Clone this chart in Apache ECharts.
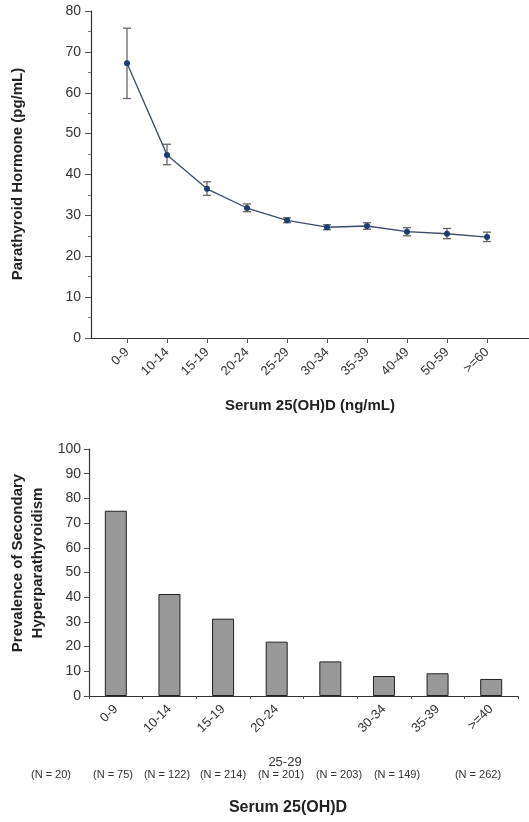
<!DOCTYPE html>
<html><head><meta charset="utf-8">
<script src="https://cdn.jsdelivr.net/npm/echarts@6/dist/echarts.min.js"></script>
<style>html,body{margin:0;padding:0;background:#fff}#c{width:529px;height:822px}</style>
</head><body><div id="c"></div>
<script>
// Top chart data
var topCategories = ['0-9','10-14','15-19','20-24','25-29','30-34','35-39','40-49','50-59','>=60'];
var pthMean = [67.2, 44.8, 36.5, 31.8, 28.8, 27.1, 27.4, 26.0, 25.5, 24.7];
var pthLow  = [58.6, 42.4, 34.9, 30.9, 28.2, 26.5, 26.6, 25.0, 24.3, 23.6];
var pthHigh = [75.8, 47.4, 38.2, 32.8, 29.4, 27.7, 28.2, 27.0, 26.8, 25.9];
var topYTicks = [0,10,20,30,40,50,60,70,80];

// Bottom chart data
var botCategories = ['0-9','10-14','15-19','20-24','25-29','30-34','35-39','>=40'];
var prevalence = [75.0, 41.3, 31.3, 22.0, 14.0, 8.1, 9.2, 6.9];
var nCounts = [20, 75, 122, 214, 201, 203, 149, 262];
var botYTicks = [0,10,20,30,40,50,60,70,80,90,100];

var FONT = 'Liberation Sans, Arial, sans-serif';
var chart = echarts.init(document.getElementById('c'), null, {renderer:'canvas'});

var idx = topCategories.map(function(_, i){ return i; });
var lineData = pthMean.map(function(v, i){ return [i, v]; });
var errData = pthMean.map(function(v, i){ return [i, pthLow[i], pthHigh[i]]; });

var nX = [51, 113, 167, 223, 281, 339, 397, 478];
var graphics = [
  {type:'text', x:18, y:174, rotation:Math.PI/2,
   style:{text:'Parathyroid Hormone (pg/mL)', font:'bold 15px '+FONT, fill:'#222', align:'center', verticalAlign:'middle'}},
  {type:'text', x:28, y:563, rotation:Math.PI/2,
   style:{text:'Prevalence of Secondary\nHyperparathyroidism', font:'bold 15px '+FONT, fill:'#222', align:'center', verticalAlign:'middle', lineHeight:20}},
  {type:'text', x:285, y:762,
   style:{text:botCategories[4], font:'13px '+FONT, fill:'#333', align:'center', verticalAlign:'middle'}},
  {type:'text', x:288, y:808,
   style:{text:'Serum 25(OH)D', font:'bold 16px '+FONT, fill:'#222', align:'center', verticalAlign:'middle'}}
];
nCounts.forEach(function(n, i){
  graphics.push({type:'text', x:nX[i], y:775,
    style:{text:'(N = ' + n + ')', font:'11px '+FONT, fill:'#333', align:'center', verticalAlign:'middle'}});
});

var option = {
  animation:false,
  backgroundColor:'#fff',
  grid:[
    {left:91, top:11, width:438, height:327},
    {left:89, top:449, width:429, height:247}
  ],
  xAxis:[
    {gridIndex:0, type:'value', min:-0.9, max:10.05,
     axisLine:{show:true, onZero:false, lineStyle:{color:'#333', width:1.2}},
     axisTick:{show:true, length:5, lineStyle:{color:'#555'}, customValues:idx},
     axisLabel:{rotate:45, fontSize:13, fontFamily:FONT, color:'#333', margin:12, customValues:idx,
       formatter:function(v){ return topCategories[Math.round(v)] || ''; }},
     splitLine:{show:false},
     name:'Serum 25(OH)D (ng/mL)', nameLocation:'middle', nameGap:60,
     nameTextStyle:{fontWeight:'bold', fontSize:15, fontFamily:FONT, color:'#222'}},
    {gridIndex:1, type:'category', data:botCategories, boundaryGap:true,
     axisLine:{show:true, lineStyle:{color:'#333', width:1.2}},
     axisTick:{show:true, length:3, lineStyle:{color:'#555'}},
     axisLabel:{rotate:45, fontSize:13, fontFamily:FONT, color:'#333', margin:11, interval:0,
       formatter:function(v, i){ return i === 4 ? '' : v; }},
     splitLine:{show:false}}
  ],
  yAxis:[
    {gridIndex:0, type:'value', min:0, max:80, interval:10,
     axisLine:{show:true, onZero:false, lineStyle:{color:'#333', width:1.2}},
     axisTick:{show:true, length:6, lineStyle:{color:'#555'}},
     minorTick:{show:true, splitNumber:2, length:3, lineStyle:{color:'#777'}},
     axisLabel:{fontSize:14, fontFamily:FONT, color:'#333', margin:10,
       formatter:function(v){ return topYTicks.indexOf(v) >= 0 ? String(v) : ''; }},
     splitLine:{show:false}},
    {gridIndex:1, type:'value', min:0, max:100, interval:10,
     axisLine:{show:true, onZero:false, lineStyle:{color:'#333', width:1.2}},
     axisTick:{show:true, length:5, lineStyle:{color:'#555'}},
     axisLabel:{fontSize:14, fontFamily:FONT, color:'#333', margin:8,
       formatter:function(v){ return botYTicks.indexOf(v) >= 0 ? String(v) : ''; }},
     splitLine:{show:false}}
  ],
  series:[
    {type:'custom', xAxisIndex:0, yAxisIndex:0, z:1, data:errData,
     renderItem:function(params, api){
       var x = api.value(0);
       var lo = api.coord([x, api.value(1)]);
       var hi = api.coord([x, api.value(2)]);
       var hw = 4;
       var st = {stroke:'#666', lineWidth:1.3};
       return {type:'group', children:[
         {type:'line', shape:{x1:lo[0], y1:lo[1], x2:hi[0], y2:hi[1]}, style:st},
         {type:'line', shape:{x1:lo[0]-hw, y1:lo[1], x2:lo[0]+hw, y2:lo[1]}, style:st},
         {type:'line', shape:{x1:hi[0]-hw, y1:hi[1], x2:hi[0]+hw, y2:hi[1]}, style:st}
       ]};
     }},
    {type:'line', xAxisIndex:0, yAxisIndex:0, z:3, data:lineData,
     symbol:'circle', symbolSize:6,
     lineStyle:{color:'#3d4c68', width:1.3},
     itemStyle:{color:'#1c3d73'}},
    {type:'bar', xAxisIndex:1, yAxisIndex:1, data:prevalence, barWidth:22,
     itemStyle:{color:'#999999', borderColor:'#222', borderWidth:1}}
  ],
  graphic:graphics
};
chart.setOption(option);
</script>
</body></html>
